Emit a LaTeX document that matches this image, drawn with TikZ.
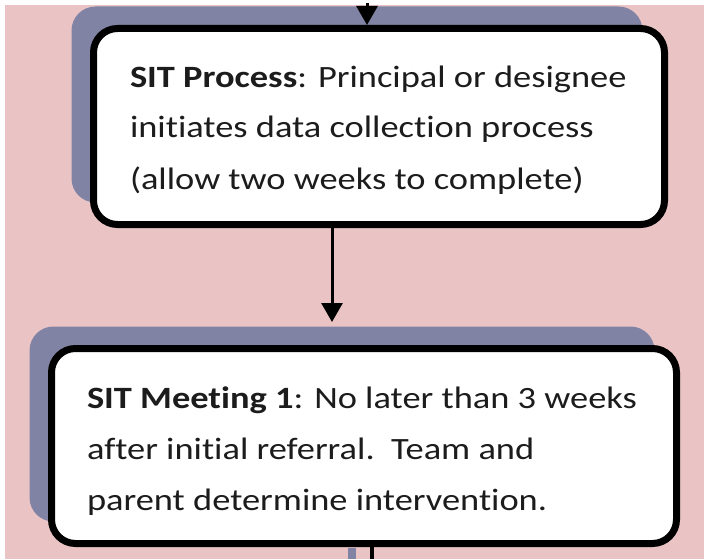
\documentclass[tikz,border=0pt]{standalone}
\usepackage{fontspec}
\setmainfont{Carlito}[FakeStretch=1.175, Ligatures=NoCommon]
\usetikzlibrary{arrows.meta,shadows,calc}
\definecolor{bgpink}{RGB}{234,196,196}
\definecolor{shadowcol}{RGB}{128,131,164}
\definecolor{txtcol}{RGB}{28,28,28}
\tikzset{
  flowbox/.style={draw=black, line width=7pt, fill=white, rounded corners=24pt,
    inner sep=0pt, outer sep=0pt,
    drop shadow={shadow xshift=-22pt, shadow yshift=22pt, fill=shadowcol, opacity=1}},
  boxtext/.style={anchor=base west, inner sep=0pt, outer sep=0pt, align=left,
    text=txtcol, font={\fontsize{31}{51}\selectfont}},
  flowarrow/.style={line width=3pt, -{Triangle[width=21pt,length=19pt]}}
}
\begin{document}
\begin{tikzpicture}[x=1pt,y=1pt]
\useasboundingbox (0,0) rectangle (704,-559);
\fill[white] (0,0) rectangle (704,-559);
\fill[bgpink] (5,-5) rectangle (704,-559);
% boxes
\node[flowbox, minimum width=571pt, minimum height=196pt] (b1) at (379,-126.5) {};
\node[flowbox, minimum width=625pt, minimum height=195pt] (b2) at (364,-446) {};
% texts (anchored at the baseline of their last line)
\node[boxtext] (t1) at (130,-189) {\textbf{SIT Process}: Principal or designee\\initiates data collection process\\(allow two weeks to complete)};
\node[boxtext] (t2) at (87,-510) {\textbf{SIT Meeting 1}: No later than 3 weeks\\after initial referral.\ \ Team and\\parent determine intervention.};
% connectors
\coordinate (top) at (367,-3);
\draw[flowarrow] (top) -- (367,-25);
\coordinate (a2s) at ($(b1.south)+(-47,0)$);
\coordinate (a2e) at (332,-322);
\draw[flowarrow] (a2s) -- (a2e);
\fill[shadowcol] (348,-548) rectangle (356,-559);
\coordinate (bot) at (372,-559);
\draw[line width=4pt] (b2.south -| bot) -- (bot);
\end{tikzpicture}
\end{document}
